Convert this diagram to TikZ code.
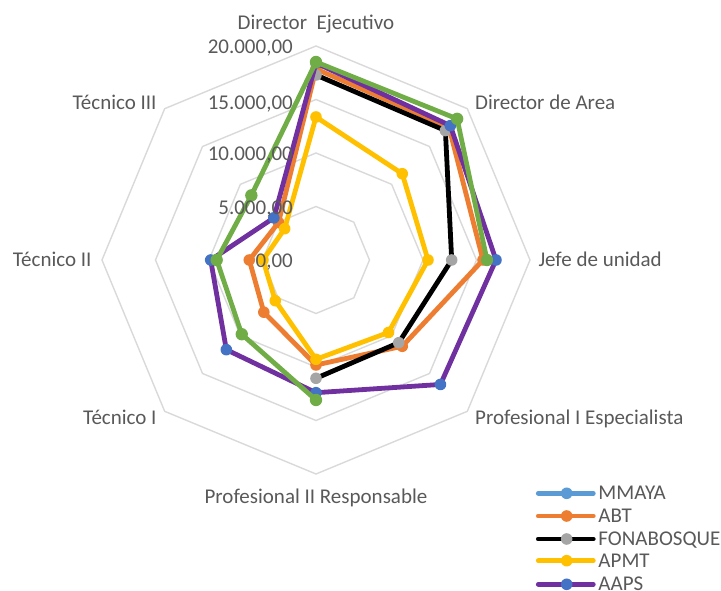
\documentclass[tikz,border=0pt]{standalone}
\usepackage{fontspec}
\setmainfont{Carlito}
\definecolor{gridc}{HTML}{D9D9D9}
\definecolor{txt}{HTML}{595959}
\definecolor{cMMAYA}{HTML}{5B9BD5}
\definecolor{cABT}{HTML}{ED7D31}
\definecolor{cGRAY}{HTML}{A5A5A5}
\definecolor{cAPMT}{HTML}{FFC000}
\definecolor{cPURP}{HTML}{7030A0}
\definecolor{cBLUE}{HTML}{4472C4}
\definecolor{cGREEN}{HTML}{70AD47}
\newcommand\defseries[2]{%
  \foreach \rr [count=\ii] in {#2} {\coordinate (#1-\ii) at ({90-45*(\ii-1)}:\rr);}%
}
\begin{document}
\begin{tikzpicture}[x=1pt,y=1pt,
  ring/.style={draw=gridc,line width=1.4pt},
  lbl/.style={text=txt,font=\fontsize{21}{25}\selectfont,inner sep=0pt},
  sline/.style={line width=4.8pt,line join=round,line cap=round}]
\useasboundingbox (-316,-331) rectangle (405,260);
% grid rings
\foreach \k in {1,2,3,4}{
  \draw[ring] (90:53.5*\k) \foreach \a in {45,0,-45,-90,-135,180,135}{ -- (\a:53.5*\k)} -- cycle;
}
% data points (radius in px: 20000 = 214)
\defseries{abt}{191,188,167,122,105,73.8,66.7,53}
\defseries{fona}{185,183,135.7,117,118.3,0,0,0}
\defseries{apmt}{143,122,112,102.5,99.3,57.6,53,44.3}
\defseries{aaps}{197,190,180,176,132.7,126.8,105.3,59.6}
\defseries{grn}{198,199.6,171,0,140,105,99.3,91.4}
% ABT
\draw[sline,cABT] (abt-1) -- (abt-2) -- (abt-3) -- (abt-4) -- (abt-5) -- (abt-6) -- (abt-7) -- (abt-8) -- cycle;
\foreach \i in {1,...,8} \fill[cABT] (abt-\i) circle (5.8);
% FONABOSQUE
\draw[sline,black] (fona-1) -- (fona-2) -- (fona-3) -- (fona-4) -- (fona-5);
\foreach \i in {1,...,5} \fill[cGRAY] (fona-\i) circle (5.8);
% APMT
\draw[sline,cAPMT] (apmt-1) -- (apmt-2) -- (apmt-3) -- (apmt-4) -- (apmt-5) -- (apmt-6) -- (apmt-7) -- (apmt-8) -- cycle;
\foreach \i in {1,...,8} \fill[cAPMT] (apmt-\i) circle (5.8);
% AAPS
\draw[sline,cPURP] (aaps-1) -- (aaps-2) -- (aaps-3) -- (aaps-4) -- (aaps-5) -- (aaps-6) -- (aaps-7) -- (aaps-8) -- cycle;
\foreach \i in {1,...,8} \fill[cBLUE] (aaps-\i) circle (5.8);
% green series
\draw[sline,cGREEN] (grn-5) -- (grn-6) -- (grn-7) -- (grn-8) -- (grn-1) -- (grn-2) -- (grn-3);
\foreach \i in {1,2,3,5,6,7,8} \fill[cGREEN] (grn-\i) circle (6.2);
% axis value labels
\node[lbl,anchor=base east] (v20) at (-23,206) {20.000,00};
\node[lbl,anchor=base east] (v15) at (-23,150.5) {15.000,00};
\node[lbl,anchor=base east] (v10) at (-23,99) {10.000,00};
\node[lbl,anchor=base east] (v5) at (-23,45.5) {5.000,00};
\node[lbl,anchor=base east] (v0) at (-23,-8) {0,00};
% category labels
\node[lbl,anchor=base] (c1) at (0,230) {Director~~Ejecutivo};
\node[lbl,anchor=base west] (c2) at (159,150) {Director de Area};
\node[lbl,anchor=base west] (c3) at (222.3,-6.7) {Jefe de unidad};
\node[lbl,anchor=base west] (c4) at (159,-165) {Profesional I Especialista};
\node[lbl,anchor=base] (c5) at (0,-244) {Profesional II Responsable};
\node[lbl,anchor=base east] (c6) at (-159.3,-165) {Técnico I};
\node[lbl,anchor=base east] (c7) at (-224.3,-6.7) {Técnico II};
\node[lbl,anchor=base east] (c8) at (-159.3,150) {Técnico III};
% legend
\foreach \nm/\lc/\mc/\yy in {MMAYA/cMMAYA/cMMAYA/-233.3, ABT/cABT/cABT/-256, FONABOSQUE/black/cGRAY/-279, APMT/cAPMT/cAPMT/-300.7, AAPS/cPURP/cBLUE/-324.3}{
  \coordinate (L\nm a) at (222.3,\yy);
  \coordinate (L\nm b) at (277.3,\yy);
  \draw[sline,\lc] (L\nm a) -- (L\nm b);
  \fill[\mc] (250.7,\yy) circle (5.8);
  \node[lbl,anchor=base west] (T\nm) at (282.3,\yy-6.7) {\nm};
}
\end{tikzpicture}
\end{document}
